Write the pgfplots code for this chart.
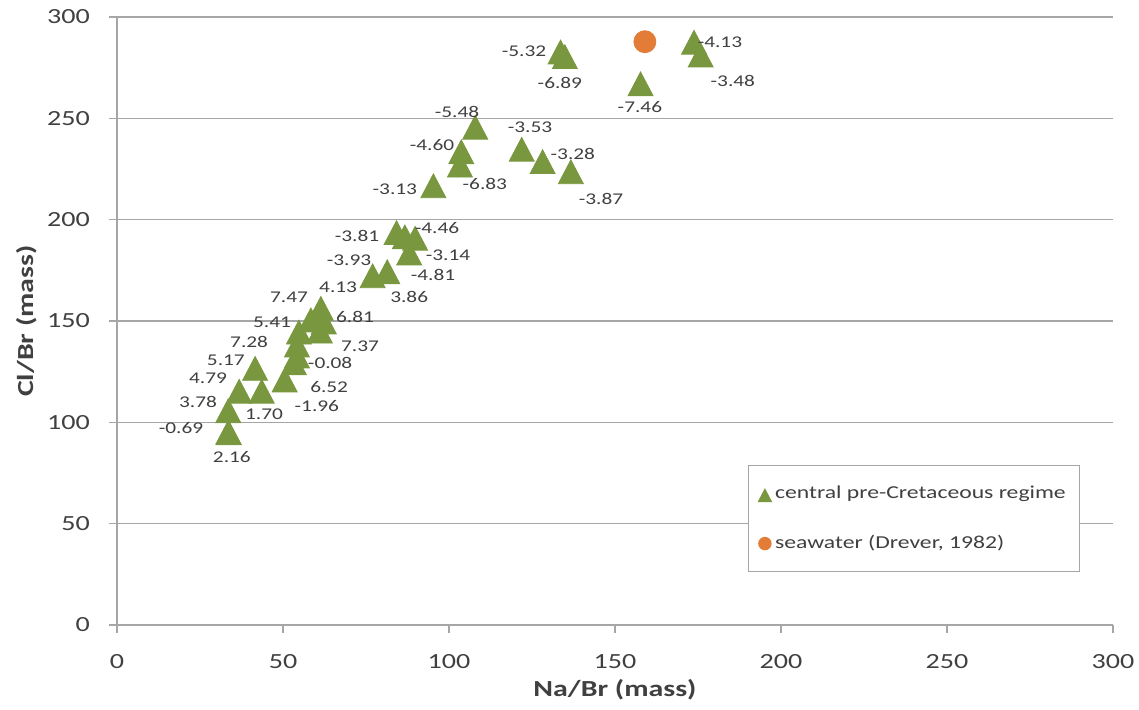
\documentclass[border=0pt]{standalone}
\usepackage{pgfplots}
\pgfplotsset{compat=1.18}
\usepackage{fontspec}
\setmainfont{Carlito}[FakeStretch=1.3]
\definecolor{tri}{HTML}{78973E}
\definecolor{sea}{HTML}{E27C36}
\definecolor{gridc}{HTML}{A6A6A6}
\definecolor{txt}{HTML}{404040}
\pgfplotstableread{
x y
133.6 282.7
134.9 280.4
157.7 267.0
173.8 287.5
175.8 281.2
107.9 245.6
103.7 233.5
103.3 226.9
95.3 216.7
121.9 234.7
128.2 228.6
136.7 223.6
84.2 193.6
86.7 191.5
89.8 190.8
88.0 183.5
77.0 172.3
81.4 174.3
61.4 156.2
58.4 150.5
62.3 149.5
61.1 145.0
54.8 144.5
54.2 138.1
54.2 132.7
53.3 129.3
50.5 120.9
41.6 126.6
36.8 115.3
43.6 115.3
33.5 105.7
33.5 95.0
33.7 94.8
}\central
\pgfplotstableread{
x y lab
122.6 283.2 -5.32
133.4 267.4 -6.89
157.5 255.6 -7.46
181.6 287.6 -4.13
185.5 268.4 -3.48
102.4 253.1 -5.48
94.9 236.8 -4.60
110.8 217.6 -6.83
83.7 215.1 -3.13
124.4 245.7 -3.53
137.3 232.4 -3.28
145.8 210.2 -3.87
72.3 191.9 -3.81
96.4 195.9 -4.46
99.7 182.5 -3.14
95.2 172.7 -4.81
69.9 180.1 -3.93
88.0 161.8 3.86
66.6 166.7 4.13
51.8 161.8 7.47
71.7 151.9 6.81
46.7 149.5 5.41
73.2 137.6 7.37
39.8 139.6 7.28
64.2 129.3 -0.08
32.8 130.7 5.17
63.9 117.4 6.52
27.4 121.9 4.79
60.2 108.0 -1.96
24.4 110.0 3.78
44.3 104.1 1.70
19.3 97.2 -0.69
34.6 82.9 2.16
}\labels
\begin{document}
\begin{tikzpicture}
\begin{axis}[
  scale only axis, width=498pt, height=304pt,
  xmin=0, xmax=300, ymin=0, ymax=300,
  xtick={0,50,...,300}, ytick={0,50,...,300},
  axis x line*=bottom, axis y line*=left,
  axis line style={gridc, line width=0.7pt},
  ymajorgrids, grid style={gridc, line width=0.7pt},
  tick style={gridc, line width=0.7pt},
  tick align=outside, major tick length=4pt,
  /pgf/number format/assume math mode=true,
  ticklabel style={font=\fontsize{10.8}{12}\selectfont, text=txt},
  xticklabel style={yshift=-7pt},
  yticklabel style={xshift=-6pt},
  xlabel={\textbf{Na/Br (mass)}},
  ylabel={\textbf{Cl/Br (mass)}},
  label style={font=\fontsize{11.5}{13}\selectfont, text=txt},
  xlabel style={at={(axis description cs:0.5,-0.107)}, anchor=center},
  ylabel style={at={(axis description cs:-0.0904,0.5)}, anchor=center},
  legend style={at={(rel axis cs:0.6335,0.263)}, anchor=north west,
    draw=gridc, line width=0.7pt, font=\fontsize{9.1}{10}\selectfont, text=txt,
    inner xsep=5pt, inner ysep=8pt, row sep=13pt},
  legend cell align=left,
  clip=false,
]
\addplot[only marks, color=tri, mark=triangle*, mark size=7.2pt,
  mark options={draw=tri, fill=tri, yscale=1.1, yshift=-1.8pt},
  legend image post style={mark size=3.6pt}]
  table {\central};
\addlegendentry{central pre-Cretaceous regime}
\addplot[only marks, color=sea, mark=*, mark size=5.5pt,
  mark options={draw=sea, fill=sea},
  legend image post style={mark size=3pt}]
  coordinates {(159.0,287.8)};
\addlegendentry{seawater (Drever, 1982)}
\addplot[only marks, mark=none, forget plot, nodes near coords,
  point meta=explicit symbolic,
  every node near coord/.append style={anchor=center, inner sep=0pt,
    font=\fontsize{8.2}{9}\selectfont, text=txt}]
  table[meta=lab] {\labels};
\end{axis}
\pgfresetboundingbox
\path[use as bounding box] ([shift={(-58.5pt,-42.5pt)}]current axis.south west) rectangle ([shift={(13pt,8.5pt)}]current axis.north east);
\end{tikzpicture}
\end{document}
